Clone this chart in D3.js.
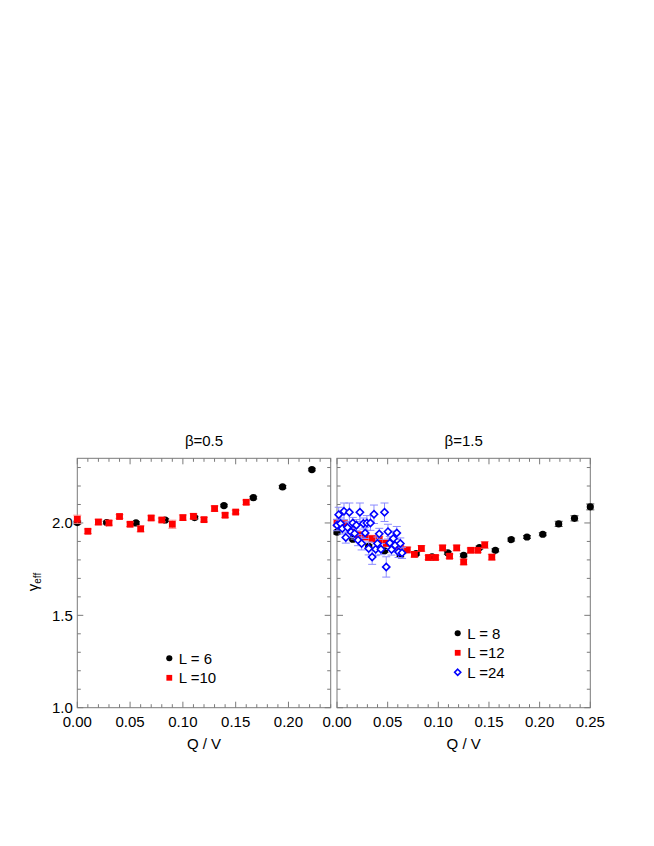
<!DOCTYPE html>
<html>
<head>
<meta charset="utf-8">
<script src="https://cdn.jsdelivr.net/npm/d3@7"></script>
<style>
  body { margin: 0; background: #fff; }
  text { font-family: "Liberation Sans", Arial, sans-serif; fill: #000; }
</style>
</head>
<body>
<div id="chart"></div>
<script>
// Left panel, beta = 0.5
const qvL6 = [0, 0.0278, 0.0556, 0.0833, 0.1111, 0.1389, 0.1667, 0.1944, 0.2222];
const gL6 = [2.002, 2.002, 2.000, 2.016, 2.029, 2.094, 2.137, 2.195, 2.289];
const eL6 = [0.008, 0.007, 0.007, 0.007, 0.007, 0.007, 0.007, 0.007, 0.007];

const qvL10 = [0, 0.01, 0.02, 0.03, 0.04, 0.05, 0.06, 0.07, 0.08, 0.09, 0.10, 0.11, 0.12, 0.13, 0.14, 0.15, 0.16];
const gL10 = [2.020, 1.955, 2.005, 2.000, 2.035, 1.993, 1.968, 2.027, 2.016, 1.993, 2.029, 2.036, 2.018, 2.078, 2.042, 2.059, 2.112];
const eL10 = [0.022, 0.012, 0.015, 0.012, 0.010, 0.012, 0.016, 0.012, 0.010, 0.022, 0.014, 0.014, 0.012, 0.014, 0.012, 0.010, 0.012];

// Right panel, beta = 1.5
const qvL8 = [0, 0.0156, 0.0313, 0.0469, 0.0625, 0.0781, 0.0938, 0.1094, 0.125, 0.1406, 0.1563, 0.1719, 0.1875, 0.2031, 0.2188, 0.2344, 0.25];
const gL8 = [1.950, 1.912, 1.874, 1.849, 1.825, 1.834, 1.816, 1.838, 1.825, 1.867, 1.852, 1.910, 1.924, 1.939, 1.995, 2.025, 2.087];
const eL8 = [0.010, 0.008, 0.008, 0.008, 0.008, 0.008, 0.008, 0.008, 0.008, 0.008, 0.008, 0.008, 0.008, 0.008, 0.014, 0.014, 0.016];

const qvL12 = [0, 0.0069, 0.0139, 0.0208, 0.0278, 0.0347, 0.0417, 0.0486, 0.0556, 0.0625, 0.0694, 0.0764,
  0.0833, 0.0903, 0.0972, 0.1042, 0.1111, 0.1181, 0.125, 0.1319, 0.1389, 0.1458, 0.1528];
const gL12 = [2.000, 1.995, 1.960, 1.935, 1.925, 1.915, 1.910, 1.890, 1.875, 1.862, 1.854, 1.830,
  1.862, 1.813, 1.813, 1.865, 1.820, 1.865, 1.789, 1.852, 1.852, 1.881, 1.815];
const eL12 = [0.020, 0.018, 0.018, 0.018, 0.018, 0.018, 0.018, 0.018, 0.018, 0.018, 0.015, 0.015,
  0.015, 0.012, 0.012, 0.015, 0.012, 0.015, 0.015, 0.012, 0.012, 0.018, 0.015];

const qvL24 = [0, 0.0017, 0.0035, 0.0052, 0.0069, 0.0087, 0.0104, 0.0122, 0.0139, 0.0156, 0.0174, 0.0191,
  0.0208, 0.0226, 0.0243, 0.0260, 0.0278, 0.0295, 0.0313, 0.0330, 0.0347, 0.0365, 0.0382, 0.0399,
  0.0417, 0.0434, 0.0469, 0.0486, 0.0503, 0.0521, 0.0538, 0.0556, 0.0573, 0.0590, 0.0608, 0.0625, 0.0642];
const gL24 = [1.988, 2.045, 1.997, 1.970, 2.063, 1.921, 1.975, 2.058, 1.951, 2.000, 1.943, 1.988,
  1.907, 2.058, 1.889, 1.997, 1.946, 2.000, 1.862, 2.000, 1.816, 2.047, 1.858, 1.889,
  1.941, 1.858, 2.058, 1.762, 1.953, 1.892, 1.856, 1.916, 1.879, 1.946, 1.843, 1.889, 1.838];
const eL24 = [0.030, 0.040, 0.030, 0.030, 0.045, 0.030, 0.030, 0.050, 0.030, 0.030, 0.030, 0.030,
  0.030, 0.050, 0.035, 0.030, 0.030, 0.040, 0.035, 0.040, 0.040, 0.050, 0.035, 0.035,
  0.030, 0.030, 0.050, 0.055, 0.040, 0.035, 0.030, 0.040, 0.035, 0.035, 0.030, 0.030, 0.030];

const yTicks = [1.0, 1.5, 2.0];

const W = 654, H = 846;
const yTop = 458.3, yBottom = 707.7;
const frameColor = '#7a7a7a';

const svg = d3.select('#chart').append('svg')
  .attr('width', W).attr('height', H);

const y = d3.scaleLinear().domain([1.0, 2.35]).range([yBottom, yTop]);

const panels = [
  {
    left: 77.3, right: 330.7, xmax: 0.24, title: 'β=0.5', yLabels: true,
    xTicks: [0, 0.05, 0.10, 0.15, 0.20],
    series: [
      { name: 'L = 6', qv: qvL6, g: gL6, e: eL6, type: 'circle' },
      { name: 'L =10', qv: qvL10, g: gL10, e: eL10, type: 'square' },
    ],
    legend: { x: 169.3, y: 658.3 },
  },
  {
    left: 337, right: 590.3, xmax: 0.25, title: 'β=1.5', yLabels: false,
    xTicks: [0, 0.05, 0.10, 0.15, 0.20, 0.25],
    series: [
      { name: 'L = 8', qv: qvL8, g: gL8, e: eL8, type: 'circle' },
      { name: 'L =12', qv: qvL12, g: gL12, e: eL12, type: 'square' },
      { name: 'L =24', qv: qvL24, g: gL24, e: eL24, type: 'diamond' },
    ],
    legend: { x: 457.7, y: 633.3 },
  },
];

const styles = {
  circle: { bar: '#555' },
  square: { bar: '#ff8a8a' },
  diamond: { bar: '#8c8cff' },
};

function drawMarker(g, type, cx, cy, s) {
  if (type === 'circle') {
    g.append('circle').attr('cx', cx).attr('cy', cy).attr('r', 3.6 * s).attr('fill', '#000');
  } else if (type === 'square') {
    const h = 3.4 * s;
    g.append('rect').attr('x', cx - h).attr('y', cy - h)
      .attr('width', 2 * h).attr('height', 2 * h).attr('fill', '#f00');
  } else {
    const h = 3.6 * s;
    g.append('path')
      .attr('d', `M${cx},${cy - h}L${cx + h},${cy}L${cx},${cy + h}L${cx - h},${cy}Z`)
      .attr('fill', '#fff').attr('stroke', '#00f').attr('stroke-width', 1.6);
  }
}

panels.forEach((p) => {
  const x = d3.scaleLinear().domain([0, p.xmax]).range([p.left, p.right]);
  const g = svg.append('g');

  // Ticks (inward), all four sides
  const xMinor = d3.range(0, p.xmax + 1e-9, 0.01);
  xMinor.forEach((v) => {
    const major = Math.abs(v / 0.05 - Math.round(v / 0.05)) < 1e-6;
    const len = major ? 6 : 3.5;
    g.append('line').attr('x1', x(v)).attr('x2', x(v))
      .attr('y1', yBottom).attr('y2', yBottom - len).attr('stroke', frameColor);
    g.append('line').attr('x1', x(v)).attr('x2', x(v))
      .attr('y1', yTop).attr('y2', yTop + len).attr('stroke', frameColor);
  });
  const yMinor = d3.range(1.0, 2.35, 0.1);
  yMinor.forEach((v) => {
    const major = Math.abs(v / 0.5 - Math.round(v / 0.5)) < 1e-6;
    const len = major ? 6 : 3.5;
    g.append('line').attr('x1', p.left).attr('x2', p.left + len)
      .attr('y1', y(v)).attr('y2', y(v)).attr('stroke', frameColor);
    g.append('line').attr('x1', p.right).attr('x2', p.right - len)
      .attr('y1', y(v)).attr('y2', y(v)).attr('stroke', frameColor);
  });

  // Frame
  g.append('rect').attr('x', p.left).attr('y', yTop)
    .attr('width', p.right - p.left).attr('height', yBottom - yTop)
    .attr('fill', 'none').attr('stroke', frameColor).attr('stroke-width', 1);

  // x tick labels
  g.selectAll('.xl').data(p.xTicks).enter().append('text')
    .attr('x', (d) => x(d)).attr('y', yBottom + 19.5)
    .attr('text-anchor', 'middle').style('font-size', '15px')
    .text((d) => d3.format('.2f')(d));

  if (p.yLabels) {
    g.selectAll('.yl').data(yTicks).enter().append('text')
      .attr('x', p.left - 4.5).attr('y', (d) => y(d) + 5.4)
      .attr('text-anchor', 'end').style('font-size', '15px')
      .text((d) => d3.format('.1f')(d));
  }

  // Title and x label
  g.append('text').attr('x', (p.left + p.right) / 2).attr('y', 446)
    .attr('text-anchor', 'middle').style('font-size', '15px').text(p.title);
  g.append('text').attr('x', (p.left + p.right) / 2).attr('y', 748.5)
    .attr('text-anchor', 'middle').style('font-size', '15px').text('Q / V');

  // Data with error bars
  p.series.forEach((s) => {
    const st = styles[s.type];
    const pts = s.qv.map((q, i) => ({ q, g: s.g[i], e: s.e[i] }));
    const bars = g.append('g');
    pts.forEach((d) => {
      const cx = x(d.q);
      bars.append('line').attr('x1', cx).attr('x2', cx)
        .attr('y1', y(d.g - d.e)).attr('y2', y(d.g + d.e))
        .attr('stroke', st.bar).attr('stroke-width', 1);
      [d.g - d.e, d.g + d.e].forEach((v) => {
        bars.append('line').attr('x1', cx - 4).attr('x2', cx + 4)
          .attr('y1', y(v)).attr('y2', y(v))
          .attr('stroke', st.bar).attr('stroke-width', 1);
      });
    });
    const marks = g.append('g');
    pts.forEach((d) => drawMarker(marks, s.type, x(d.q), y(d.g), 1));
  });

  // Legend
  p.series.forEach((s, i) => {
    const ly = p.legend.y + i * 19.5;
    drawMarker(g, s.type, p.legend.x, ly, 0.85);
    g.append('text').attr('x', p.legend.x + 9.5).attr('y', ly + 5.3)
      .style('font-size', '15px').text(s.name);
  });
});

// y axis label: gamma_eff
const yl = svg.append('text')
  .attr('transform', 'translate(38,582) rotate(-90)')
  .attr('text-anchor', 'middle').style('font-size', '15px');
yl.append('tspan').text('γ');
yl.append('tspan').attr('dy', 3).style('font-size', '10px').text('eff');
</script>
</body>
</html>
